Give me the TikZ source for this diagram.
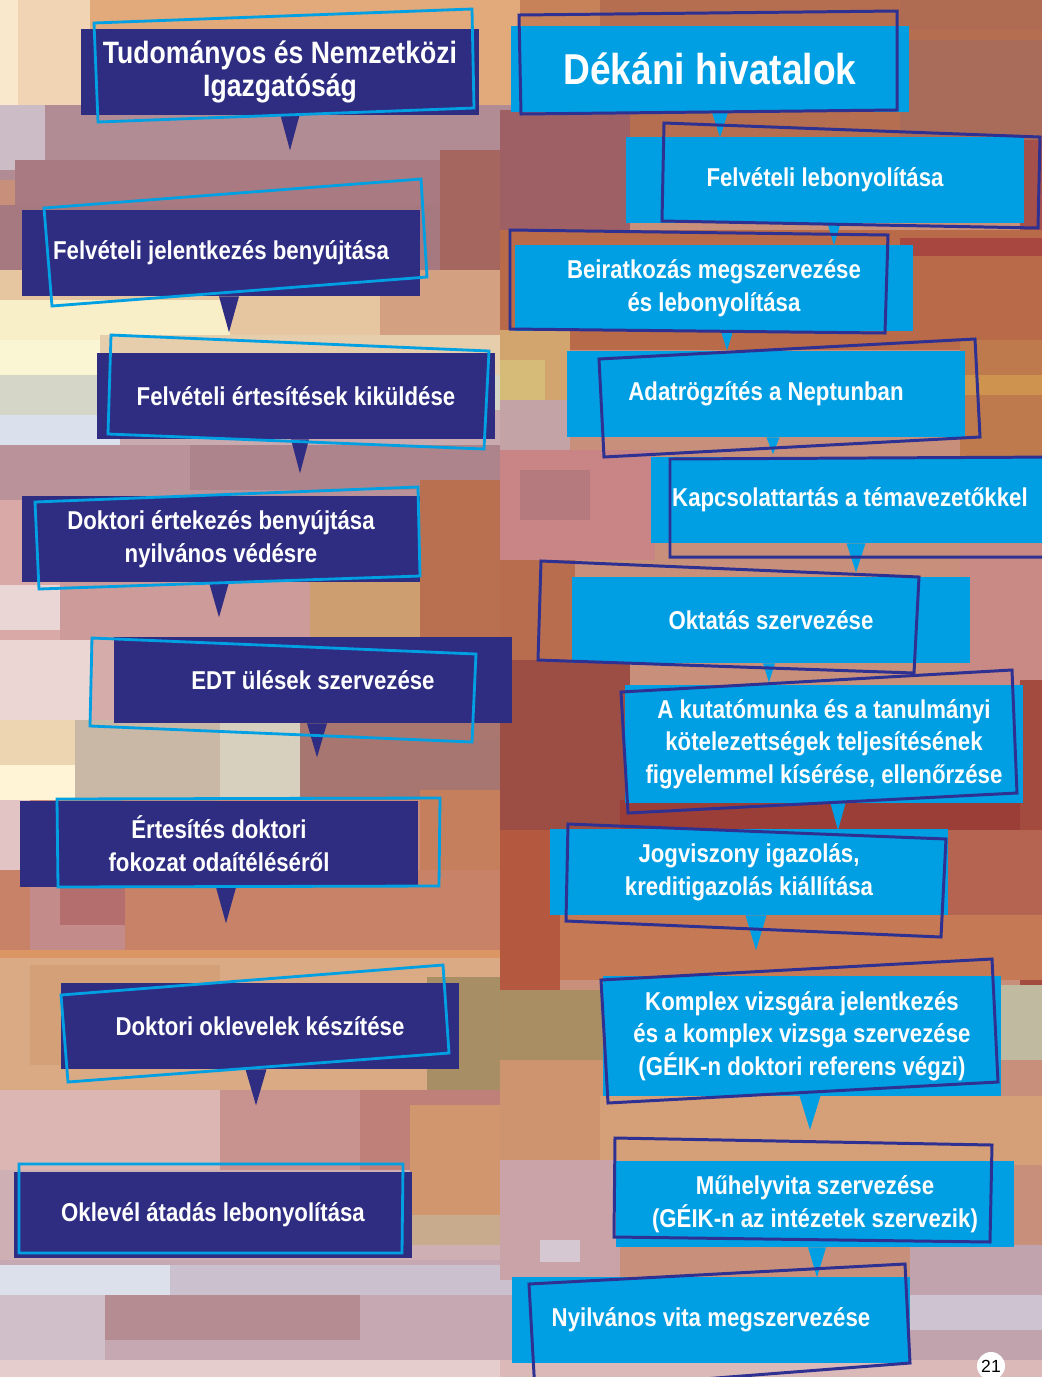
\documentclass[tikz,border=0pt]{standalone}
\usepackage{fontspec}
\setmainfont{Liberation Sans}
\newfontfamily\condbold{Liberation Sans}[FakeStretch=0.86]
\usetikzlibrary{calc}
\definecolor{NavyBox}{RGB}{46,45,130}
\definecolor{CyanBox}{RGB}{0,159,227}
\definecolor{NavyLine}{RGB}{46,49,146}
\definecolor{CyanLine}{RGB}{0,160,227}
\pgfdeclarelayer{mosaic}
\pgfdeclarelayer{boxes}
\pgfsetlayers{mosaic,boxes,main}
\tikzset{
  stagebox/.style={text=white, minimum width=7.96cm, minimum height=1.72cm,
                   inner sep=0pt, align=center,
                   font=\condbold\bfseries\fontsize{14.7}{18.6}\selectfont},
  titlebox/.style={stagebox, font=\condbold\bfseries\fontsize{17.6}{18.4}\selectfont},
  headbox/.style={stagebox, font=\condbold\bfseries\fontsize{24.6}{28}\selectfont},
  nframe/.style={draw=CyanLine, line width=1.6pt, line join=miter},
  cframe/.style={draw=NavyLine, line width=1.7pt, line join=miter},
  pagenum/.style={circle, fill=white, inner sep=0pt, minimum size=0.56cm,
                  font=\fontsize{10}{12}\selectfont},
}
\begin{document}
\begin{tikzpicture}[x=0.02cm, y=-0.02cm]
  \useasboundingbox (0,0) rectangle (1042,1377);

  % left column
  \node[titlebox] (tni) at (280,72) {Tudományos és Nemzetközi\\Igazgatóság};
  \node[stagebox] (jel) at (221,253) {Felvételi jelentkezés benyújtása};
  \node[stagebox] (ert) at (296,396) {Felvételi értesítések kiküldése};
  \node[stagebox] (dok) at (221,539) {Doktori értekezés benyújtása\\nyilvános védésre};
  \node[stagebox] (edt) at (313,680) {EDT ülések szervezése};
  \node[stagebox] (fok) at (219,844) {Értesítés doktori\\fokozat odaítéléséről};
  \node[stagebox] (okl) at (260,1026) {Doktori oklevelek készítése};
  \node[stagebox] (ata) at (213,1215) {Oklevél átadás lebonyolítása};

  % right column
  \node[headbox] (dek) at (710,69) {Dékáni hivatalok};
  \node[stagebox] (fel) at (825,180) {Felvételi lebonyolítása};
  \node[stagebox] (bei) at (714,288) {Beiratkozás megszervezése\\és lebonyolítása};
  \node[stagebox] (nep) at (766,394) {Adatrögzítés a Neptunban};
  \node[stagebox] (kap) at (850,500) {Kapcsolattartás a témavezetőkkel};
  \node[stagebox] (okt) at (771,620) {Oktatás szervezése};
  \node[stagebox, minimum height=2.36cm] (kut) at (824,744)
       {A kutatómunka és a tanulmányi\\kötelezettségek teljesítésének\\figyelemmel kísérése, ellenőrzése};
  \node[stagebox] (jog) at (749,872) {Jogviszony igazolás,\\kreditigazolás kiállítása};
  \node[stagebox, minimum height=2.38cm] (kom) at (802,1036)
       {Komplex vizsgára jelentkezés\\és a komplex vizsga szervezése\\(GÉIK-n doktori referens végzi)};
  \node[stagebox] (muh) at (815,1204) {Műhelyvita szervezése\\(GÉIK-n az intézetek szervezik)};
  \node[stagebox] (vit) at (711,1320) {Nyilvános vita megszervezése};

  \node[pagenum] (num) at (991,1366) {21};

  % background mosaic
  \begin{pgfonlayer}{mosaic}
    \foreach \xa/\ya/\xb/\yb/\r/\g/\b in {
      0/0/1042/1377/200/144/122,
      0/0/520/130/226/169/122, 0/0/90/130/241/212/180, 0/0/18/130/250/232/205,
      0/105/520/180/178/140/148, 0/105/45/170/204/188/198,
      15/160/440/205/170/122/130, 0/205/520/280/166/120/128,
      0/270/380/335/230/198/160, 0/300/230/345/248/238/200,
      380/270/520/340/212/160/130, 440/150/520/270/165/102/95,
      0/340/100/375/250/245/210, 100/335/520/375/230/205/172,
      0/375/520/420/213/214/200, 0/415/120/450/218/224/236,
      120/410/520/450/200/170/175, 0/445/520/500/185/146/154,
      190/445/520/490/174/132/140, 0/500/60/640/217/169/168,
      60/500/310/640/205/156/154, 310/540/430/640/205/158/112,
      420/480/520/640/185/112/80, 0/585/60/630/235/214/214,
      0/640/90/720/236/214/212, 90/640/230/720/214/172/171,
      230/640/520/760/170/118/112, 0/720/75/800/237/213/178,
      75/720/220/800/201/184/165, 220/720/300/800/216/208/190,
      300/740/520/800/168/118/112, 0/765/75/800/255/245/214,
      0/800/520/880/200/140/120, 0/800/30/900/226/196/196,
      420/790/520/880/197/127/92, 0/870/520/950/200/130/104,
      30/880/125/950/196/139/139, 60/880/125/925/180/110/110,
      0/950/520/960/220/150/100, 0/958/520/1100/218/170/133,
      30/965/220/1065/212/160/120, 427/977/520/1090/168/142/100,
      0/1090/220/1170/220/182/178, 220/1090/360/1170/200/146/143,
      360/1090/520/1170/192/128/122, 0/1170/520/1260/205/175/180,
      410/1105/520/1245/210/150/110, 410/1215/520/1245/200/170/140,
      0/1260/520/1377/198/168/178, 0/1265/170/1295/220/224/234,
      170/1265/520/1295/203/193/206, 105/1295/360/1340/181/140/145,
      0/1295/105/1360/208/190/200, 0/1360/520/1377/230/205/205,
      520/0/1042/140/182/110/80, 520/0/600/60/200/130/90,
      900/0/1042/30/176/108/82, 900/40/1042/140/170/108/90,
      500/110/630/250/158/96/100, 1020/140/1042/250/165/80/74,
      500/230/1042/350/185/106/72, 900/238/1042/256/168/70/64,
      500/330/570/460/210/165/110, 500/360/545/400/214/186/120,
      500/400/570/450/196/163/166, 960/340/1042/460/190/122/76,
      960/375/1042/395/205/147/79, 500/450/655/560/201/133/133,
      520/470/590/520/180/122/126, 500/560/575/680/184/110/78,
      960/540/1042/690/201/138/133, 500/660/630/830/157/78/68,
      620/800/1042/830/155/62/56, 1020/680/1042/1000/164/75/64,
      500/830/560/990/180/89/63, 940/830/1042/960/180/100/80,
      560/915/1042/980/197/122/85, 500/990/605/1065/169/141/99,
      1000/985/1042/1060/192/187/160, 500/1060/620/1165/206/148/112,
      600/1096/1042/1165/213/160/119, 500/1160/620/1280/201/163/167,
      540/1240/580/1262/214/200/210, 910/1245/1042/1377/193/163/173,
      910/1295/1042/1330/206/195/208, 500/1360/1042/1377/220/185/185}
      \fill[fill={rgb,255:red,\r;green,\g;blue,\b}] (\xa,\ya) rectangle (\xb,\yb);
  \end{pgfonlayer}

  \begin{pgfonlayer}{boxes}
    \foreach \n in {tni,jel,ert,dok,edt,fok,okl,ata}
      \fill[NavyBox] (\n.south west) rectangle (\n.north east);
    \foreach \n in {dek,fel,bei,nep,kap,okt,kut,jog,kom,muh,vit}
      \fill[CyanBox] (\n.south west) rectangle (\n.north east);

    % pointers
    \fill[NavyBox] ($(tni.south)+(0.5,0)$) -- ($(tni.south)+(19.5,0)$) -- ($(tni.south)+(10,35)$) -- cycle;
    \fill[NavyBox] ($(jel.south)+(-2,0)$) -- ($(jel.south)+(18,0)$) -- ($(jel.south)+(8,36)$) -- cycle;
    \fill[NavyBox] ($(ert.south)+(-5,0)$) -- ($(ert.south)+(13,0)$) -- ($(ert.south)+(4,34)$) -- cycle;
    \fill[NavyBox] ($(dok.south)+(-12,0)$) -- ($(dok.south)+(8,0)$) -- ($(dok.south)+(-2,35)$) -- cycle;
    \fill[NavyBox] ($(edt.south)+(-6,0)$) -- ($(edt.south)+(14,0)$) -- ($(edt.south)+(4,34)$) -- cycle;
    \fill[NavyBox] ($(fok.south)+(-3,0)$) -- ($(fok.south)+(17,0)$) -- ($(fok.south)+(7,36)$) -- cycle;
    \fill[NavyBox] ($(okl.south)+(-14.5,0)$) -- ($(okl.south)+(6.5,0)$) -- ($(okl.south)+(-4,36)$) -- cycle;
    \fill[CyanBox] ($(dek.south)+(2,0)$) -- ($(dek.south)+(18,0)$) -- ($(dek.south)+(10,25)$) -- cycle;
    \fill[CyanBox] ($(fel.south)+(2.5,0)$) -- ($(fel.south)+(15.5,0)$) -- ($(fel.south)+(9,22)$) -- cycle;
    \fill[CyanBox] ($(bei.south)+(7,0)$) -- ($(bei.south)+(19,0)$) -- ($(bei.south)+(13,19)$) -- cycle;
    \fill[CyanBox] ($(nep.south)+(0.5,0)$) -- ($(nep.south)+(13.5,0)$) -- ($(nep.south)+(7,17)$) -- cycle;
    \fill[CyanBox] ($(kap.south)+(-3.5,0)$) -- ($(kap.south)+(15.5,0)$) -- ($(kap.south)+(6,29)$) -- cycle;
    \fill[CyanBox] ($(okt.south)+(-8,0)$) -- ($(okt.south)+(4,0)$) -- ($(okt.south)+(-2,19)$) -- cycle;
    \fill[CyanBox] ($(kut.south)+(6.5,0)$) -- ($(kut.south)+(21.5,0)$) -- ($(kut.south)+(14,27)$) -- cycle;
    \fill[CyanBox] ($(jog.south)+(-3.5,0)$) -- ($(jog.south)+(17.5,0)$) -- ($(jog.south)+(7,35)$) -- cycle;
    \fill[CyanBox] ($(kom.south)+(-2.5,0)$) -- ($(kom.south)+(18.5,0)$) -- ($(kom.south)+(8,34)$) -- cycle;
    \fill[CyanBox] ($(muh.south)+(-7,0)$) -- ($(muh.south)+(11,0)$) -- ($(muh.south)+(2,30)$) -- cycle;

    % tilted frames
    \draw[nframe] (94,23) -- (472,9) -- (474,108) -- (98,122) -- cycle;
    \draw[nframe] (44,208) -- (421,179) -- (427,277) -- (52,306) -- cycle;
    \draw[nframe] (111,335) -- (489,351) -- (484,449) -- (108,434) -- cycle;
    \draw[nframe] (35,502) -- (418,487) -- (420,576) -- (39,589) -- cycle;
    \draw[nframe] (92,638) -- (476,654) -- (472,742) -- (90,726) -- cycle;
    \draw[nframe] (57,799) -- (440,798) -- (439,886) -- (58,887) -- cycle;
    \draw[nframe] (61,995) -- (443,965) -- (449,1053) -- (68,1082) -- cycle;
    \draw[nframe] (19,1164) -- (403,1164) -- (402,1253) -- (19,1253) -- cycle;
    \draw[cframe] (519,15) -- (897,11) -- (897,110) -- (521,114) -- cycle;
    \draw[cframe] (664,123) -- (1040,137) -- (1038,228) -- (662,221) -- cycle;
    \draw[cframe] (510,230) -- (888,235) -- (885,333) -- (510,329) -- cycle;
    \draw[cframe] (599,359) -- (975,339) -- (980,437) -- (604,457) -- cycle;
    \draw[cframe] (670,459) -- (1060,457) -- (1060,557) -- (670,557) -- cycle;
    \draw[cframe] (541,561) -- (919,577) -- (914,673) -- (538,660) -- cycle;
    \draw[cframe] (621,692) -- (1012,670) -- (1017,793) -- (628,813) -- cycle;
    \draw[cframe] (568,824) -- (946,839) -- (941,937) -- (566,921) -- cycle;
    \draw[cframe] (601,980) -- (992,959) -- (998,1082) -- (608,1103) -- cycle;
    \draw[cframe] (615,1138) -- (992,1145) -- (990,1242) -- (614,1237) -- cycle;
    \draw[cframe] (529,1284) -- (905,1264) -- (910,1363) -- (535,1392) -- cycle;
  \end{pgfonlayer}
\end{tikzpicture}
\end{document}
